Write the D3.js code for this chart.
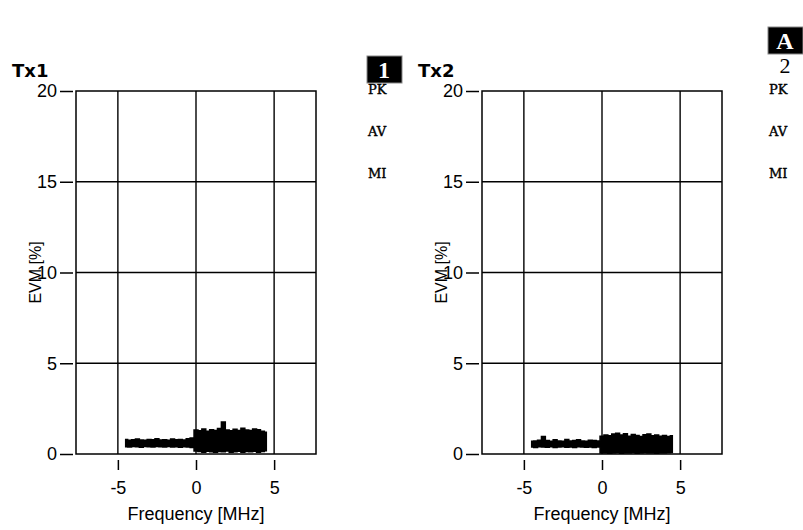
<!DOCTYPE html>
<html>
<head>
<meta charset="utf-8">
<script src="https://cdn.jsdelivr.net/npm/d3@7"></script>
<style>
  body { margin: 0; background: #fff; }
  svg { display: block; }
</style>
</head>
<body>
<svg id="chart" width="803" height="530"></svg>
<script>
// subcarrier frequency [MHz]
const freqs = [-4.5, -4.25, -4.0, -3.75, -3.5, -3.25, -3.0, -2.75, -2.5, -2.25, -2.0, -1.75, -1.5, -1.25, -1.0, -0.75, -0.5, -0.25,
  0.0, 0.25, 0.5, 0.75, 1.0, 1.25, 1.5, 1.75, 2.0, 2.25, 2.5, 2.75, 3.0, 3.25, 3.5, 3.75, 4.0, 4.25, 4.5];

// EVM envelope per subcarrier [%]
const tx1Hi = [0.80, 0.76, 0.78, 0.82, 0.77, 0.76, 0.80, 0.78, 0.84, 0.77, 0.79, 0.76, 0.82, 0.78, 0.80, 0.77, 0.84, 0.88,
  1.32, 1.28, 1.38, 1.26, 1.34, 1.30, 1.40, 1.76, 1.32, 1.28, 1.36, 1.30, 1.42, 1.32, 1.30, 1.38, 1.34, 1.26, 1.20];
const tx1Lo = [0.40, 0.38, 0.42, 0.40, 0.37, 0.41, 0.40, 0.38, 0.42, 0.40, 0.38, 0.41, 0.39, 0.40, 0.37, 0.40, 0.38, 0.36,
  0.16, 0.14, 0.10, 0.15, 0.12, 0.10, 0.14, 0.12, 0.16, 0.10, 0.13, 0.15, 0.10, 0.14, 0.12, 0.15, 0.10, 0.14, 0.18];
const tx2Hi = [0.70, 0.72, 0.76, 0.96, 0.74, 0.70, 0.78, 0.72, 0.70, 0.80, 0.72, 0.74, 0.78, 0.72, 0.70, 0.76, 0.74, 0.72,
  0.98, 1.05, 1.00, 1.10, 1.15, 1.04, 1.12, 0.98, 1.08, 1.02, 0.96, 1.06, 1.10, 1.00, 1.04, 0.98, 1.02, 0.96, 1.00];
const tx2Lo = [0.38, 0.36, 0.40, 0.38, 0.37, 0.40, 0.36, 0.38, 0.40, 0.37, 0.38, 0.36, 0.40, 0.38, 0.37, 0.39, 0.36, 0.38,
  0.05, 0.06, 0.04, 0.06, 0.07, 0.04, 0.06, 0.05, 0.07, 0.04, 0.06, 0.07, 0.05, 0.06, 0.04, 0.06, 0.05, 0.07, 0.08];

const yTicks = [0, 5, 10, 15, 20];
const xTicks = [-5, 0, 5];
const traceLabels = ["PK", "AV", "MI"];

const panels = [
  { title: "Tx1", x0: 76, hi: tx1Hi, lo: tx1Lo, badge: "1", badgeX: 367, badgeY: 56, sub: null },
  { title: "Tx2", x0: 482, hi: tx2Hi, lo: tx2Lo, badge: "A", badgeX: 768, badgeY: 27, sub: "2" }
];

const svg = d3.select("#chart");
const plotW = 240, plotH = 363, plotTop = 91;
const sans = "'Liberation Sans', Arial, sans-serif";
const serif = "'Liberation Serif', 'Times New Roman', serif";

panels.forEach(p => {
  const x = d3.scaleLinear().domain([-7.68, 7.68]).range([0, plotW]);
  const y = d3.scaleLinear().domain([0, 20]).range([plotH, 0]);
  const g = svg.append("g").attr("transform", `translate(${p.x0},${plotTop})`);

  //grid
  g.selectAll(".hgrid").data(yTicks.slice(1, -1)).enter().append("line")
    .attr("x1", 0).attr("x2", plotW)
    .attr("y1", d => y(d)).attr("y2", d => y(d))
    .attr("stroke", "#000").attr("stroke-width", 1.4);
  g.selectAll(".vgrid").data(xTicks).enter().append("line")
    .attr("y1", 0).attr("y2", plotH)
    .attr("x1", d => x(d)).attr("x2", d => x(d))
    .attr("stroke", "#000").attr("stroke-width", 1.4);

  //trace (min..max envelope per subcarrier)
  const band = d3.area()
    .x(d => x(d))
    .y0((d, i) => y(p.lo[i]))
    .y1((d, i) => y(p.hi[i]))
    .curve(d3.curveStep);
  g.append("path").datum(freqs)
    .attr("d", band)
    .attr("fill", "#000").attr("stroke", "#000").attr("stroke-width", 1.5);

  //frame
  g.append("rect").attr("width", plotW).attr("height", plotH)
    .attr("fill", "none").attr("stroke", "#000").attr("stroke-width", 1.5);

  //y axis
  const axY = g.append("g").attr("transform", "translate(-3,0)")
    .call(d3.axisLeft(y).tickValues(yTicks).tickSize(13).tickSizeOuter(0).tickPadding(3));
  axY.select(".domain").remove();
  axY.selectAll("line").attr("stroke-width", 1.5);
  axY.selectAll("text").attr("font-family", sans).attr("font-size", 18).attr("fill", "#000");

  //x axis
  const axX = g.append("g").attr("transform", `translate(0,${plotH + 6})`)
    .call(d3.axisBottom(x).tickValues(xTicks).tickFormat(d => String(d))
      .tickSize(10).tickSizeOuter(0).tickPadding(11));
  axX.select(".domain").remove();
  axX.selectAll("line").attr("stroke-width", 1.5);
  axX.selectAll("text").attr("font-family", sans).attr("font-size", 18).attr("fill", "#000");

  g.append("text").attr("x", x(0)).attr("y", plotH + 66)
    .attr("text-anchor", "middle").attr("font-family", sans).attr("font-size", 18)
    .text("Frequency [MHz]");

  g.append("text").attr("transform", `translate(-35,${y(10)}) rotate(-90)`)
    .attr("text-anchor", "middle").attr("font-family", sans).attr("font-size", 16)
    .text("EVM [%]");

  //title
  svg.append("text").attr("x", p.x0 - 64).attr("y", 77)
    .attr("font-family", "'DejaVu Sans', Verdana, sans-serif").attr("font-weight", "bold").attr("font-size", 18)
    .text(p.title);

  //badge + trace labels at right
  const bx = p.badgeX;
  svg.append("rect").attr("x", bx).attr("y", p.badgeY).attr("width", 35).attr("height", 27)
    .attr("fill", "#000").attr("stroke", "#888").attr("stroke-width", 1);
  svg.append("text").attr("x", bx + 17).attr("y", p.badgeY + 22)
    .attr("text-anchor", "middle").attr("font-family", serif).attr("font-weight", "bold")
    .attr("font-size", 24).attr("fill", "#fff").text(p.badge);
  if (p.sub) {
    svg.append("text").attr("x", bx + 17).attr("y", p.badgeY + 46)
      .attr("text-anchor", "middle").attr("font-family", serif).attr("font-size", 22)
      .text(p.sub);
  }
  svg.selectAll(null).data(traceLabels).enter().append("text")
    .attr("x", bx + 1).attr("y", (d, i) => 94 + i * 42)
    .attr("font-family", "'DejaVu Serif', serif").attr("font-size", 13)
    .attr("stroke", "#000").attr("stroke-width", 0.4)
    .text(d => d);
});
</script>
</body>
</html>
